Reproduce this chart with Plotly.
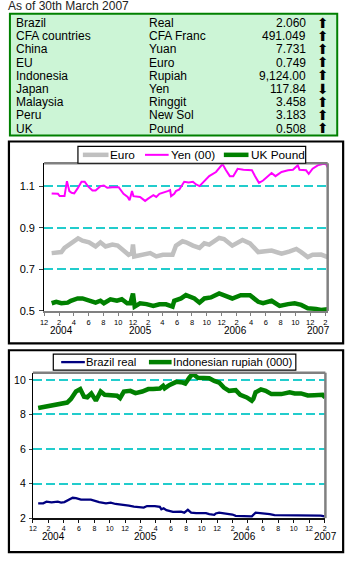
import plotly.graph_objects as go
import pandas as pd

W, H = 354, 565
FONT = "Liberation Sans, Arial, sans-serif"

# ---------------- table data ----------------
table_title = "As of 30th March 2007"
countries = ["Brazil", "CFA countries", "China", "EU", "Indonesia", "Japan", "Malaysia", "Peru", "UK"]
currencies = ["Real", "CFA Franc", "Yuan", "Euro", "Rupiah", "Yen", "Ringgit", "New Sol", "Pound"]
rates = ["2.060", "491.049", "7.731", "0.749", "9,124.00", "117.84", "3.458", "3.183", "0.508"]
directions = ["up", "up", "up", "up", "up", "down", "up", "up", "up"]

# ---------------- chart 1 data ----------------
euro_dates = ["2004-01-01", "2004-01-20", "2004-02-10", "2004-02-23", "2004-03-20", "2004-04-19",
              "2004-05-07", "2004-06-03", "2004-06-30", "2004-07-20", "2004-08-10", "2004-09-07",
              "2004-09-29", "2004-10-23", "2004-11-13", "2004-11-27", "2004-12-01", "2004-12-06",
              "2004-12-30", "2005-02-10", "2005-03-07", "2005-04-03", "2005-05-13", "2005-05-27",
              "2005-06-23", "2005-07-08", "2005-08-05", "2005-09-01", "2005-09-21", "2005-10-11",
              "2005-11-21", "2005-12-11", "2006-01-14", "2006-02-25", "2006-03-28", "2006-05-01",
              "2006-06-25", "2006-08-05", "2006-09-08", "2006-10-05", "2006-10-25", "2006-11-21",
              "2006-12-11", "2007-01-15", "2007-02-11"]
euro = [0.778, 0.783, 0.783, 0.803, 0.822, 0.849, 0.838, 0.830, 0.810, 0.830, 0.810, 0.819,
        0.814, 0.790, 0.770, 0.778, 0.819, 0.762, 0.767, 0.778, 0.762, 0.770, 0.770, 0.814,
        0.835, 0.830, 0.814, 0.803, 0.825, 0.819, 0.851, 0.846, 0.814, 0.841, 0.825, 0.783,
        0.790, 0.775, 0.786, 0.798, 0.783, 0.759, 0.770, 0.771, 0.759]

yen_dates = ["2004-01-01", "2004-01-27", "2004-02-03", "2004-02-23", "2004-03-04", "2004-03-14",
             "2004-03-23", "2004-04-03", "2004-04-17", "2004-05-03", "2004-05-16", "2004-05-29",
             "2004-06-17", "2004-06-30", "2004-07-20", "2004-08-03", "2004-08-17", "2004-09-07",
             "2004-10-03", "2004-10-23", "2004-11-09", "2004-11-17", "2004-11-27", "2004-12-03",
             "2004-12-30", "2005-01-20", "2005-02-03", "2005-02-23", "2005-03-07", "2005-03-20",
             "2005-04-23", "2005-05-03", "2005-05-07", "2005-05-20", "2005-05-27", "2005-06-10",
             "2005-06-30", "2005-07-18", "2005-08-05", "2005-08-18", "2005-09-01", "2005-09-14",
             "2005-10-11", "2005-11-08", "2005-12-05", "2005-12-18", "2006-01-04", "2006-01-18",
             "2006-02-05", "2006-03-01", "2006-04-05", "2006-04-18", "2006-05-04", "2006-05-21",
             "2006-06-25", "2006-07-11", "2006-08-05", "2006-09-01", "2006-09-21", "2006-10-11",
             "2006-10-18", "2006-11-14", "2006-11-25", "2006-12-11", "2007-01-01", "2007-01-21",
             "2007-02-04", "2007-02-11"]
yen = [1.065, 1.063, 1.052, 1.052, 1.124, 1.076, 1.068, 1.065, 1.089, 1.121, 1.121, 1.100,
       1.079, 1.079, 1.100, 1.103, 1.092, 1.095, 1.095, 1.063, 1.048, 1.032, 1.076, 1.052,
       1.048, 1.029, 1.041, 1.057, 1.048, 1.063, 1.076, 1.081, 1.052, 1.063, 1.076, 1.084,
       1.121, 1.118, 1.121, 1.108, 1.100, 1.116, 1.148, 1.168, 1.206, 1.179, 1.148, 1.148,
       1.183, 1.179, 1.176, 1.148, 1.116, 1.127, 1.163, 1.148, 1.168, 1.176, 1.179, 1.200,
       1.179, 1.176, 1.159, 1.184, 1.200, 1.206, 1.206, 1.190]

gbp_dates = ["2004-01-01", "2004-01-20", "2004-02-10", "2004-03-07", "2004-03-20", "2004-04-17",
             "2004-05-07", "2004-06-03", "2004-06-30", "2004-07-20", "2004-08-03", "2004-08-30",
             "2004-09-26", "2004-10-16", "2004-11-07", "2004-11-20", "2004-12-01", "2004-12-08",
             "2004-12-30", "2005-01-26", "2005-02-23", "2005-03-20", "2005-04-16", "2005-05-13",
             "2005-05-20", "2005-06-17", "2005-07-07", "2005-08-11", "2005-09-01", "2005-09-21",
             "2005-10-18", "2005-11-21", "2005-12-25", "2006-01-14", "2006-02-18", "2006-03-28",
             "2006-05-01", "2006-05-21", "2006-06-25", "2006-07-28", "2006-09-01", "2006-09-28",
             "2006-10-25", "2006-11-21", "2006-12-25", "2007-01-15", "2007-02-11"]
gbp = [0.537, 0.544, 0.537, 0.540, 0.549, 0.560, 0.560, 0.552, 0.540, 0.549, 0.537, 0.556,
       0.549, 0.556, 0.537, 0.537, 0.584, 0.521, 0.537, 0.533, 0.524, 0.532, 0.532, 0.521,
       0.549, 0.560, 0.576, 0.560, 0.540, 0.560, 0.565, 0.584, 0.568, 0.560, 0.576, 0.576,
       0.544, 0.537, 0.549, 0.524, 0.533, 0.537, 0.529, 0.513, 0.510, 0.505, 0.508]

# ---------------- chart 2 data ----------------
brl_dates = ["2003-12-22", "2004-01-11", "2004-01-24", "2004-02-13", "2004-03-09", "2004-03-22",
             "2004-04-04", "2004-04-17", "2004-05-07", "2004-05-20", "2004-06-09", "2004-07-18",
             "2004-07-31", "2004-08-20", "2004-09-16", "2004-10-05", "2004-10-24", "2004-11-26",
             "2004-12-16", "2005-01-05", "2005-01-31", "2005-02-13", "2005-02-26", "2005-03-29",
             "2005-04-18", "2005-04-24", "2005-05-03", "2005-05-14", "2005-06-09", "2005-06-29",
             "2005-07-11", "2005-07-24", "2005-08-07", "2005-08-20", "2005-09-09", "2005-10-18",
             "2005-10-31", "2005-11-20", "2005-11-26", "2005-12-09", "2006-01-05", "2006-01-31",
             "2006-02-13", "2006-04-05", "2006-04-18", "2006-05-03", "2006-05-26", "2006-06-28",
             "2006-07-17", "2006-09-22", "2006-11-26", "2007-01-17", "2007-02-01"]
brl = [2.86, 2.86, 2.95, 2.91, 2.95, 2.90, 2.93, 3.03, 3.18, 3.16, 3.07, 3.07,
       3.01, 2.93, 2.86, 2.90, 2.82, 2.78, 2.72, 2.67, 2.61, 2.61, 2.70, 2.70,
       2.65, 2.51, 2.57, 2.46, 2.36, 2.38, 2.38, 2.32, 2.48, 2.32, 2.29, 2.29,
       2.23, 2.19, 2.27, 2.32, 2.27, 2.21, 2.13, 2.13, 2.10, 2.32, 2.29, 2.23,
       2.17, 2.15, 2.15, 2.15, 2.10]

idr_dates = ["2003-12-22", "2004-01-05", "2004-01-24", "2004-02-13", "2004-02-26", "2004-03-15",
             "2004-04-15", "2004-04-30", "2004-05-20", "2004-06-06", "2004-06-21", "2004-07-04",
             "2004-07-20", "2004-08-07", "2004-08-13", "2004-08-26", "2004-09-11", "2004-10-05",
             "2004-10-30", "2004-11-11", "2004-11-26", "2004-12-22", "2005-01-11", "2005-02-07",
             "2005-03-03", "2005-03-22", "2005-04-18", "2005-05-01", "2005-05-07", "2005-05-27",
             "2005-06-16", "2005-06-22", "2005-07-18", "2005-07-28", "2005-08-13", "2005-08-26",
             "2005-09-16", "2005-10-05", "2005-10-31", "2005-11-20", "2005-12-09", "2005-12-28",
             "2006-01-18", "2006-02-13", "2006-03-03", "2006-03-29", "2006-04-18", "2006-04-24",
             "2006-05-03", "2006-05-24", "2006-06-12", "2006-07-05", "2006-08-13", "2006-09-15",
             "2006-10-05", "2006-10-30", "2006-11-26", "2006-12-22", "2007-01-24", "2007-02-03"]
idr = [8.38, 8.42, 8.50, 8.51, 8.61, 8.65, 8.69, 8.90, 9.33, 9.47, 9.03, 9.00,
       9.22, 8.80, 8.95, 9.33, 9.14, 9.12, 9.09, 8.95, 9.33, 9.37, 9.24, 9.33,
       9.47, 9.47, 9.50, 9.66, 9.52, 9.71, 9.81, 9.89, 9.85, 9.79, 10.13, 10.36,
       10.13, 10.10, 10.10, 9.94, 9.85, 9.56, 9.37, 9.41, 9.14, 8.99, 8.80, 8.90,
       9.28, 9.45, 9.37, 9.18, 9.18, 9.28, 9.22, 9.22, 9.10, 9.12, 9.14, 8.99]

tick_months = pd.date_range("2003-12-01", "2007-02-01", freq="2MS")
tick_labels = [str(d.month) for d in tick_months]
year_labels = ["2004", "2005", "2006", "2007"]
year_pos_1 = ["2004-02-11", "2005-01-01", "2006-01-28", "2007-01-04"]
year_pos_2 = ["2004-02-22", "2005-02-21", "2006-03-19", "2007-02-03"]

series1 = [
    dict(name="Euro", x=euro_dates, y=euro, color="#c0c0c0", width=4.5),
    dict(name="Yen (00)", x=yen_dates, y=yen, color="#ff00ff", width=2),
    dict(name="UK Pound", x=gbp_dates, y=gbp, color="#008000", width=4.5),
]
series2 = [
    dict(name="Brazil real", x=brl_dates, y=brl, color="#000080", width=2.3),
    dict(name="Indonesian rupiah (000)", x=idr_dates, y=idr, color="#008000", width=4.5),
]


def fx(p):
    return p / W


def fy(p):
    return 1 - p / H


fig = go.Figure()
for s in series1:
    fig.add_trace(go.Scatter(x=s["x"], y=s["y"], mode="lines", name=s["name"],
                             line=dict(color=s["color"], width=s["width"]),
                             xaxis="x", yaxis="y", showlegend=False))
for s in series2:
    fig.add_trace(go.Scatter(x=s["x"], y=s["y"], mode="lines", name=s["name"],
                             line=dict(color=s["color"], width=s["width"]),
                             xaxis="x2", yaxis="y2", showlegend=False))

grid = dict(showgrid=True, gridcolor="#22cccc", gridwidth=1.5, griddash="9px,4px")
xcommon = dict(type="date", tickvals=list(tick_months), ticktext=tick_labels,
               ticks="outside", ticklen=3, showgrid=False, zeroline=False, showline=True)

fig.update_layout(
    width=W, height=H, margin=dict(l=0, r=0, t=0, b=0),
    paper_bgcolor="white", plot_bgcolor="white", showlegend=False,
    font=dict(family=FONT, color="black"),
    xaxis=dict(domain=[fx(40.7), fx(328.3)], anchor="y",
               range=["2003-12-01", "2007-02-11"],
               tickfont=dict(size=7.5), linecolor="#808080", linewidth=2,
               tickcolor="#808080", **xcommon),
    yaxis=dict(domain=[fy(314.3), fy(165)], anchor="x", range=[0.5, 1.21],
               tickvals=[0.5, 0.7, 0.9, 1.1], ticktext=["0.5", "0.7", "0.9", "1.1"],
               ticks="outside", ticklen=4, tickfont=dict(size=11), zeroline=False,
               showline=True, linecolor="black", linewidth=1, ticklabelstandoff=2, **grid),
    xaxis2=dict(domain=[fx(29.3), fx(326)], anchor="y2",
                range=["2003-12-01", "2007-02-04"],
                tickfont=dict(size=7), linecolor="#111111", linewidth=1.5,
                tickcolor="#111111", **xcommon),
    yaxis2=dict(domain=[fy(523.7), fy(376.7)], anchor="x2", range=[2, 10.42],
                tickvals=[2, 4, 6, 8, 10], ticktext=["2", "4", "6", "8", "10"],
                ticks="outside", ticklen=3, tickfont=dict(size=10.5), zeroline=False,
                showline=True, linecolor="black", linewidth=1, ticklabelstandoff=1, **grid),
)

shapes = []
ann = []


def ptext(text, x, y, xanchor="left", size=11.5, **font):
    f = dict(size=size)
    f.update(font)
    return dict(text=text, x=fx(x), y=fy(y), xref="paper", yref="paper", xanchor=xanchor,
                yanchor="middle", showarrow=False, font=f, borderpad=0)


# table box
shapes.append(dict(type="rect", xref="paper", yref="paper", x0=fx(6), x1=fx(338), y0=fy(137), y1=fy(14),
                   fillcolor="#ccf5d6", line=dict(color="#008000", width=2), layer="below"))
ann.append(ptext(table_title, 3.5, 6.5, size=12, color="#222222"))
for i, (c, cur, r, d) in enumerate(zip(countries, currencies, rates, directions)):
    yy = 23.3 + 13.33 * i
    ann.append(ptext(c, 11.5, yy, size=12))
    ann.append(ptext(cur, 146, yy, size=12))
    ann.append(ptext(r, 307.5, yy, xanchor="right", size=12))
    ann.append(ptext("⬆" if d == "up" else "⬇", 323.3, yy - 0.5, xanchor="center",
                     size=14, family="DejaVu Sans"))

# chart frames
for y0, y1 in [(143, 347), (354, 558)]:
    shapes.append(dict(type="rect", xref="paper", yref="paper", x0=fx(5), x1=fx(344),
                       y0=fy(y1), y1=fy(y0), line=dict(color="black", width=2.2)))

# gray top/right plot borders
for xa, ya in [("x", "y"), ("x2", "y2")]:
    shapes.append(dict(type="line", xref=xa + " domain", yref=ya + " domain", x0=0, x1=1, y0=1, y1=1,
                       line=dict(color="#808080", width=2.5)))
    shapes.append(dict(type="line", xref=xa + " domain", yref=ya + " domain", x0=1, x1=1, y0=0, y1=1,
                       line=dict(color="#808080", width=2.5)))

# year labels
for lab, p in zip(year_labels, year_pos_1):
    ann.append(dict(text=lab, x=p, xref="x", y=fy(334.5), yref="paper", showarrow=False,
                    xanchor="center", yanchor="middle", font=dict(size=10), borderpad=0))
for lab, p in zip(year_labels, year_pos_2):
    ann.append(dict(text=lab, x=p, xref="x2", y=fy(542.5), yref="paper", showarrow=False,
                    xanchor="center", yanchor="middle", font=dict(size=10), borderpad=0))

# legends (drawn manually)
legend_boxes = [(75, 306, 148, 165), (50, 296, 358, 374)]
legend_items = [
    [(80, 106, 107), (143, 167, 168), (223, 248, 250)],
    [(58, 82, 82.5), (147, 170, 170.5)],
]
legend_sizes = [11.8, 11.3]
for (bx0, bx1, by0, by1), items, ser, fs in zip(legend_boxes, legend_items, [series1, series2], legend_sizes):
    shapes.append(dict(type="rect", xref="paper", yref="paper", x0=fx(bx0), x1=fx(bx1),
                       y0=fy(by1), y1=fy(by0), fillcolor="white", line=dict(color="black", width=1.2)))
    yc = (by0 + by1) / 2
    for (lx0, lx1, tx), s in zip(items, ser):
        shapes.append(dict(type="line", xref="paper", yref="paper", x0=fx(lx0), x1=fx(lx1),
                           y0=fy(yc), y1=fy(yc), line=dict(color=s["color"], width=s["width"])))
        ann.append(ptext(s["name"], tx, yc, size=fs))

fig.update_layout(shapes=shapes, annotations=ann)
fig.write_html("out.html")
